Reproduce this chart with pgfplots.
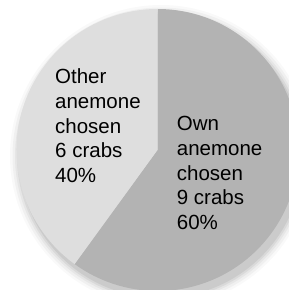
\documentclass[border=0pt]{standalone}
\usepackage{pgfplots}
\usepackage{pgfplotstable}
\pgfplotsset{compat=1.18}
\usepackage{fontspec}
\setmainfont{Liberation Sans}
\definecolor{owncol}{HTML}{B3B3B3}
\definecolor{othercol}{HTML}{DEDEDE}
\pgfplotstableread{
label value
Own 9
Other 6
}\piedata
\pgfplotstablegetelem{0}{value}\of\piedata \global\let\ownv\pgfplotsretval
\pgfplotstablegetelem{1}{value}\of\piedata \global\let\otherv\pgfplotsretval
\pgfmathsetmacro\ownangle{360*\ownv/(\ownv+\otherv)}
\pgfmathsetmacro\ownend{90-\ownangle}
\begin{document}
\begin{tikzpicture}
\begin{axis}[at={(0,0)},anchor=south west,width=289pt,height=290pt,scale only axis,
  xmin=0,xmax=289,ymin=0,ymax=290,hide axis,clip=true]
\begin{scope}
\clip (axis cs:0,0) rectangle (axis cs:289,290);
\fill[black,opacity=0.025] (axis cs:161,134) circle[radius=151pt];
\fill[black,opacity=0.035] (axis cs:161,134) circle[radius=148.5pt];
\fill[black,opacity=0.045] (axis cs:161,134) circle[radius=146pt];
\fill[black,opacity=0.055] (axis cs:161,134) circle[radius=144pt];
\fill[black,opacity=0.065] (axis cs:161,134) circle[radius=142pt];
\fill[owncol] (axis cs:157.5,140) -- ++(90:141pt) arc[start angle=90,end angle=\ownend,radius=141pt] -- cycle;
\fill[othercol] (axis cs:157.5,140) -- ++(\ownend:141pt) arc[start angle=\ownend,end angle=-270,radius=141pt] -- cycle;
\end{scope}
\begin{scope}[every node/.style={anchor=base west,inner sep=0pt,font=\fontsize{20.5}{24.6}\selectfont}]
\node at (axis cs:55,206) {Other};
\node at (axis cs:55,181.4) {anemone};
\node at (axis cs:55,156.8) {chosen};
\node at (axis cs:55,132.2) {\otherv\ crabs};
\node at (axis cs:55,107.6) {40\%};
\node at (axis cs:176.7,159) {Own};
\node at (axis cs:176.7,134.4) {anemone};
\node at (axis cs:176.7,109.8) {chosen};
\node at (axis cs:176.7,85.2) {\ownv\ crabs};
\node at (axis cs:176.7,60.6) {60\%};
\end{scope}
\end{axis}
\pgfresetboundingbox
\path[use as bounding box] (0,0) rectangle (289pt,290pt);
\end{tikzpicture}
\end{document}
